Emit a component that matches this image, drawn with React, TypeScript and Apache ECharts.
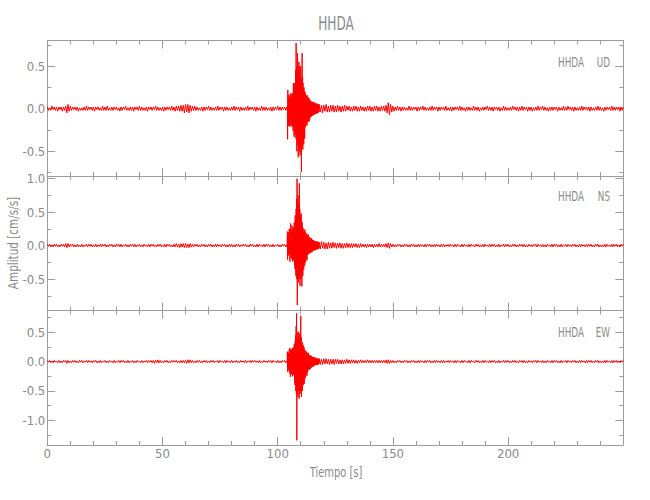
import React, { useEffect, useRef } from "react";
import * as echarts from "echarts";

// ---------- data (cm/s/s) ----------
const STATION = "HHDA";
const COMPONENTS = ["UD", "NS", "EW"];
const X_MIN = 0;
const X_MAX = 250;

// sample steps (s) and segment starts (s)
const PRE_START = 0, PRE_STEP = 0.5;
const EVENT_START = 104, EVENT_STEP = 0.1;
const CODA_START = 118, CODA_STEP = 0.5;
const POST_START = 140, POST_STEP = 0.5;

const udPre = [
  .02,-.02,.01,-.02,.03,-.01,.02,-.02,.02,-.03,
  .02,-.01,.02,-.03,.02,-.02,.03,-.05,.05,-.03,
  .03,-.02,.02,-.01,.02,-.02,.02,-.03,.01,-.02,
  .01,-.02,.02,-.02,.03,-.02,.02,-.01,.02,-.02,
  .02,-.03,.02,-.01,.02,-.02,.01,-.02,.03,-.02,
  .02,-.02,.03,-.02,.01,-.02,.02,-.02,.02,-.01,
  .02,-.02,.01,-.03,.02,-.02,.02,-.01,.03,-.02,
  .01,-.02,.02,-.02,.02,-.03,.02,-.01,.02,-.02,
  .03,-.02,.02,-.02,.01,-.02,.02,-.03,.02,-.01,
  .02,-.02,.02,-.01,.03,-.02,.02,-.02,.01,-.02,
  .02,-.03,.02,-.02,.02,-.01,.02,-.02,.03,-.02,
  .02,-.03,.03,-.02,.03,-.03,.04,-.03,.04,-.05,
  .05,-.04,.05,-.05,.04,-.03,.03,-.02,.03,-.02,
  .02,-.02,.01,-.02,.02,-.03,.02,-.02,.02,-.01,
  .03,-.02,.02,-.02,.01,-.02,.02,-.02,.03,-.02,
  .02,-.01,.02,-.03,.02,-.02,.02,-.02,.01,-.02,
  .02,-.02,.03,-.02,.02,-.01,.02,-.03,.02,-.02,
  .01,-.02,.02,-.02,.03,-.02,.02,-.01,.02,-.02,
  .02,-.03,.02,-.02,.01,-.02,.03,-.02,.02,-.02,
  .02,-.02,.01,-.02,.02,-.03,.02,-.02,.02,-.01,
  .03,-.02,.02,-.02,.02,-.01,.02,-.02,
];
const udEvent = [
  .02,-.01,.02,-.36,.22,-.15,.12,-.2,.16,-.1,
  .14,-.21,.08,-.18,.17,-.12,.1,-.2,.18,-.09,
  .12,-.21,.15,-.08,.18,-.2,.1,-.26,.3,-.18,
  .22,-.33,.3,-.15,.25,-.3,.2,-.28,.45,-.35,
  .77,-.3,.5,-.5,.35,-.42,.65,-.25,.45,-.57,
  .3,-.45,.55,-.35,.5,-.5,.25,-.55,.4,-.3,
  .5,-.45,.35,-.74,.3,-.4,.65,-.35,.38,-.48,
  .3,-.37,.22,-.42,.25,-.3,.18,-.35,.2,-.22,
  .18,-.2,.12,-.18,.15,-.14,.1,-.2,.16,-.12,
  .12,-.16,.1,-.14,.13,-.08,.12,-.15,.09,-.12,
  .1,-.08,.07,-.1,.09,-.06,.08,-.09,.06,-.08,
  .08,-.06,.07,-.08,.05,-.07,.08,-.05,.06,-.07,
  .06,-.05,.07,-.06,.05,-.04,.06,-.05,.04,-.06,
  .05,-.04,.06,-.05,.04,-.05,.05,-.04,.05,-.04,
];
const udCoda = [
  .05,-.04,.04,-.05,.04,-.03,.05,-.04,.03,-.04,
  .04,-.03,.04,-.04,.03,-.04,.04,-.03,.03,-.04,
  .03,-.03,.04,-.03,.03,-.02,.03,-.03,.02,-.03,
  .03,-.02,.03,-.03,.02,-.03,.03,-.02,.02,-.03,
  .02,-.03,.03,-.02,
];
const udPost = [
  .03,-.03,.02,-.03,.03,-.02,.03,-.03,.02,-.03,
  .03,-.02,.03,-.03,.04,-.05,.07,-.07,.05,-.04,
  .03,-.03,.02,-.02,.03,-.02,.02,-.03,.02,-.02,
  .02,-.02,.01,-.02,.03,-.02,.02,-.02,.02,-.01,
  .02,-.03,.02,-.02,.02,-.01,.03,-.02,.02,-.02,
  .01,-.02,.02,-.02,.03,-.02,.02,-.01,.02,-.03,
  .02,-.02,.02,-.01,.02,-.02,.03,-.02,.01,-.02,
  .02,-.03,.02,-.02,.02,-.01,.02,-.02,.03,-.02,
  .02,-.02,.01,-.03,.02,-.02,.02,-.02,.01,-.02,
  .03,-.02,.02,-.02,.02,-.03,.01,-.02,.02,-.02,
  .02,-.01,.03,-.02,.02,-.02,.02,-.03,.02,-.01,
  .02,-.02,.02,-.03,.01,-.02,.03,-.02,.02,-.02,
  .01,-.02,.02,-.02,.03,-.01,.02,-.02,.02,-.03,
  .02,-.02,.03,-.02,.02,-.01,.02,-.03,.02,-.02,
  .02,-.03,.01,-.02,.02,-.02,.03,-.02,.02,-.01,
  .03,-.02,.02,-.02,.01,-.03,.02,-.02,.02,-.02,
  .02,-.01,.02,-.03,.02,-.02,.01,-.02,.03,-.02,
  .02,-.02,.03,-.01,.02,-.02,.02,-.03,.02,-.02,
  .01,-.02,.02,-.02,.03,-.02,.02,-.01,.02,-.02,
  .02,-.03,.02,-.02,.01,-.02,.02,-.02,.03,-.02,
  .02,-.02,.01,-.03,.02,-.02,.02,-.01,.02,-.02,
  .03,-.02,.02,-.02,.02,-.01,.02,-.03,.02,-.02,
  .02,
];

const nsPre = [
  .02,-.01,.02,-.02,.01,-.02,.02,-.01,.02,-.02,
  .01,-.02,.02,-.01,.02,-.02,.03,-.03,.03,-.02,
  .02,-.01,.02,-.02,.01,-.02,.02,-.02,.01,-.02,
  .02,-.02,.01,-.01,.02,-.02,.02,-.01,.02,-.02,
  .01,-.02,.02,-.02,.01,-.01,.02,-.02,.02,-.01,
  .02,-.02,.01,-.02,.02,-.01,.02,-.02,.01,-.02,
  .02,-.01,.02,-.02,.02,-.02,.01,-.01,.02,-.02,
  .01,-.02,.02,-.01,.02,-.02,.02,-.02,.01,-.01,
  .02,-.02,.01,-.02,.02,-.01,.01,-.02,.02,-.02,
  .02,-.01,.02,-.02,.01,-.02,.02,-.01,.02,-.02,
  .01,-.02,.02,-.02,.02,-.01,.02,-.02,.01,-.02,
  .02,-.02,.03,-.02,.02,-.03,.03,-.02,.03,-.03,
  .03,-.03,.02,-.03,.03,-.02,.02,-.02,.02,-.01,
  .02,-.02,.01,-.02,.02,-.01,.02,-.02,.01,-.02,
  .02,-.01,.02,-.02,.01,-.02,.02,-.02,.02,-.01,
  .01,-.02,.02,-.01,.02,-.02,.01,-.02,.02,-.02,
  .02,-.02,.01,-.02,.02,-.01,.02,-.02,.01,-.01,
  .02,-.01,.02,-.02,.01,-.02,.02,-.01,.02,-.02,
  .01,-.02,.02,-.02,.02,-.01,.01,-.02,.02,-.02,
  .02,-.01,.02,-.02,.01,-.02,.02,-.02,.01,-.01,
  .02,-.02,.01,-.02,.02,-.01,.02,-.02,
];
const nsEvent = [
  .01,-.02,.21,-.21,.12,-.15,.18,-.1,.2,-.14,
  .25,-.12,.18,-.24,.15,-.1,.33,-.18,.2,-.15,
  .22,-.2,.3,-.12,.18,-.24,.26,-.15,.2,-.22,
  .28,-.18,.35,-.3,.25,-.35,.45,-.28,.4,-.45,
  .55,-.4,.7,-.5,1.0,-.89,.6,-.45,.75,-.55,
  .5,-.4,.65,-.5,.93,-.45,.55,-.6,.45,-.4,
  .4,-.5,.48,-.35,.3,-.61,.35,-.4,.28,-.45,
  .26,-.3,.2,-.36,.22,-.25,.18,-.3,.24,-.2,
  .2,-.25,.15,-.2,.18,-.15,.12,-.22,.16,-.14,
  .15,-.12,.17,-.1,.12,-.13,.1,-.11,.13,-.09,
  .12,-.1,.09,-.11,.1,-.08,.11,-.09,.08,-.1,
  .09,-.07,.08,-.08,.07,-.06,.08,-.07,.06,-.07,
  .07,-.06,.06,-.07,.05,-.06,.06,-.05,.06,-.05,
  .05,-.06,.05,-.04,.06,-.05,.04,-.05,.05,-.04,
];
const nsCoda = [
  .05,-.05,.06,-.04,.05,-.05,.04,-.05,.05,-.04,
  .04,-.04,.05,-.03,.04,-.04,.04,-.03,.04,-.04,
  .03,-.04,.03,-.03,.04,-.03,.03,-.03,.03,-.03,
  .03,-.02,.03,-.03,.02,-.03,.03,-.02,.02,-.02,
  .02,-.03,.02,-.02,
];
const nsPost = [
  .02,-.02,.02,-.03,.02,-.02,.02,-.02,.03,-.02,
  .02,-.02,.02,-.02,.03,-.03,.04,-.04,.03,-.02,
  .02,-.02,.01,-.02,.02,-.01,.02,-.02,.01,-.02,
  .02,-.01,.02,-.02,.01,-.02,.02,-.01,.02,-.02,
  .01,-.02,.02,-.02,.02,-.01,.01,-.02,.02,-.02,
  .02,-.01,.02,-.02,.01,-.02,.02,-.02,.02,-.01,
  .01,-.02,.02,-.02,.02,-.02,.01,-.01,.02,-.02,
  .02,-.01,.01,-.02,.02,-.02,.02,-.01,.01,-.02,
  .02,-.02,.02,-.01,.01,-.02,.02,-.02,.02,-.01,
  .01,-.02,.02,-.01,.02,-.02,.01,-.02,.02,-.02,
  .02,-.01,.01,-.02,.02,-.02,.02,-.01,.02,-.02,
  .01,-.02,.02,-.02,.01,-.01,.02,-.02,.02,-.01,
  .02,-.02,.01,-.02,.02,-.01,.02,-.02,.01,-.02,
  .02,-.01,.02,-.02,.02,-.02,.01,-.02,.02,-.01,
  .01,-.02,.02,-.01,.02,-.02,.02,-.01,.01,-.02,
  .02,-.02,.01,-.02,.02,-.01,.01,-.02,.02,-.02,
  .02,-.01,.02,-.02,.01,-.02,.02,-.02,.01,-.01,
  .02,-.02,.02,-.01,.01,-.02,.02,-.01,.02,-.02,
  .01,-.02,.02,-.02,.02,-.01,.01,-.02,.02,-.02,
  .02,-.01,.02,-.02,.01,-.02,.02,-.01,.02,-.02,
  .01,-.02,.01,-.02,.02,-.02,.02,-.01,.01,-.02,
  .02,-.02,.02,-.01,.02,-.02,.01,-.02,.02,-.01,
  .02,
];

const ewPre = [
  .02,-.01,.02,-.02,.01,-.02,.02,-.01,.01,-.02,
  .02,-.02,.01,-.02,.02,-.01,.02,-.03,.02,-.02,
  .01,-.02,.02,-.01,.02,-.02,.01,-.02,.02,-.01,
  .02,-.02,.01,-.01,.02,-.02,.02,-.01,.01,-.02,
  .02,-.01,.02,-.02,.01,-.02,.02,-.02,.01,-.01,
  .02,-.02,.01,-.02,.02,-.01,.01,-.02,.02,-.02,
  .01,-.01,.02,-.02,.02,-.01,.02,-.02,.01,-.02,
  .02,-.02,.01,-.01,.02,-.02,.01,-.02,.02,-.01,
  .01,-.02,.02,-.02,.01,-.01,.02,-.02,.02,-.01,
  .02,-.02,.02,-.03,.02,-.02,.03,-.02,.02,-.02,
  .01,-.02,.02,-.01,.02,-.02,.01,-.02,.02,-.01,
  .02,-.01,.02,-.02,.01,-.02,.02,-.02,.02,-.02,
  .02,-.03,.03,-.02,.03,-.02,.02,-.02,.01,-.02,
  .02,-.01,.02,-.02,.01,-.02,.02,-.01,.02,-.02,
  .01,-.02,.02,-.01,.02,-.02,.01,-.01,.02,-.02,
  .02,-.01,.01,-.02,.02,-.02,.02,-.01,.01,-.02,
  .02,-.02,.01,-.01,.02,-.02,.01,-.02,.02,-.01,
  .01,-.02,.02,-.02,.01,-.01,.02,-.02,.02,-.01,
  .02,-.01,.01,-.02,.02,-.02,.01,-.02,.02,-.01,
  .01,-.02,.02,-.01,.02,-.02,.02,-.01,.01,-.02,
  .02,-.02,.01,-.02,.02,-.01,.02,-.02,
];
const ewEvent = [
  .01,-.02,.17,-.17,.12,-.1,.15,-.13,.1,-.16,
  .2,-.12,.23,-.2,.14,-.26,.18,-.1,.22,-.18,
  .15,-.22,.2,-.14,.23,-.25,.12,-.2,.18,-.22,
  .25,-.2,.3,-.35,.22,-.4,.35,-.3,.45,-.5,
  .6,-.55,.82,-1.34,.5,-.45,.4,-.6,.35,-.5,
  .51,-.4,.45,-.63,.38,-.5,.48,-.55,.4,-.45,
  .78,-.5,.42,-.6,.35,-.45,.3,-.5,.32,-.38,
  .28,-.4,.22,-.32,.25,-.38,.18,-.3,.2,-.28,
  .18,-.25,.15,-.22,.17,-.2,.12,-.24,.15,-.18,
  .14,-.15,.12,-.13,.15,-.12,.1,-.14,.11,-.12,
  .11,-.1,.09,-.12,.1,-.08,.09,-.1,.08,-.09,
  .08,-.08,.07,-.09,.06,-.07,.08,-.06,.07,-.07,
  .06,-.06,.07,-.05,.05,-.06,.06,-.05,.05,-.06,
  .05,-.05,.04,-.05,.05,-.04,.05,-.05,.04,-.04,
];
const ewCoda = [
  .05,-.05,.04,-.05,.05,-.04,.05,-.04,.04,-.05,
  .04,-.04,.04,-.05,.04,-.03,.04,-.04,.03,-.04,
  .03,-.04,.03,-.03,.04,-.03,.03,-.03,.03,-.02,
  .03,-.03,.02,-.03,.02,-.02,.03,-.02,.02,-.02,
  .02,-.02,.03,-.02,
];
const ewPost = [
  .02,-.02,.02,-.02,.02,-.02,.02,-.02,.02,-.02,
  .02,-.02,.02,-.02,.03,-.03,.03,-.03,.02,-.02,
  .02,-.02,.01,-.02,.02,-.01,.02,-.02,.01,-.02,
  .02,-.01,.02,-.02,.01,-.02,.02,-.01,.02,-.02,
  .01,-.02,.02,-.02,.02,-.01,.01,-.02,.02,-.02,
  .02,-.01,.02,-.02,.01,-.02,.02,-.02,.02,-.01,
  .01,-.02,.02,-.02,.02,-.02,.01,-.01,.02,-.02,
  .02,-.01,.01,-.02,.02,-.02,.02,-.01,.01,-.02,
  .02,-.02,.02,-.01,.01,-.02,.02,-.02,.02,-.01,
  .01,-.02,.02,-.01,.02,-.02,.01,-.02,.02,-.02,
  .02,-.01,.01,-.02,.02,-.02,.02,-.01,.02,-.02,
  .01,-.02,.02,-.02,.01,-.01,.02,-.02,.02,-.01,
  .02,-.02,.01,-.02,.02,-.01,.02,-.02,.01,-.02,
  .02,-.01,.02,-.02,.02,-.02,.01,-.02,.02,-.01,
  .01,-.02,.02,-.01,.02,-.02,.02,-.01,.01,-.02,
  .02,-.02,.01,-.02,.02,-.01,.01,-.02,.02,-.02,
  .02,-.01,.02,-.02,.01,-.02,.02,-.02,.01,-.01,
  .02,-.02,.02,-.01,.01,-.02,.02,-.01,.02,-.02,
  .01,-.02,.02,-.02,.02,-.01,.01,-.02,.02,-.02,
  .02,-.01,.02,-.02,.01,-.02,.02,-.01,.02,-.02,
  .01,-.02,.01,-.02,.02,-.02,.02,-.01,.01,-.02,
  .02,-.02,.02,-.01,.02,-.02,.01,-.02,.02,-.01,
  .02,
];

// axis ranges and tick values per panel
const Y_RANGES = [[-0.79, 0.8], [-0.97, 1.04], [-1.42, 0.87]];
const Y_MAJOR_TICKS = [[-0.5, 0, 0.5], [-0.5, 0, 0.5, 1.0], [-1.0, -0.5, 0, 0.5]];
const Y_MINOR_TICKS = [
  [-0.75, -0.25, 0.25, 0.75],
  [-0.75, -0.25, 0.25, 0.75],
  [-1.25, -0.75, -0.25, 0.25, 0.75],
];

// ---------- helpers ----------
function seg(start: number, step: number, vals: number[]): [number, number][] {
  return vals.map((v, i) => [Math.round((start + i * step) * 100) / 100, v]);
}
function trace(pre: number[], ev: number[], coda: number[], post: number[]) {
  return [
    ...seg(PRE_START, PRE_STEP, pre),
    ...seg(EVENT_START, EVENT_STEP, ev),
    ...seg(CODA_START, CODA_STEP, coda),
    ...seg(POST_START, POST_STEP, post),
  ];
}

const FONT = "'DejaVu Sans Condensed', 'Liberation Sans', sans-serif";
const AXIS_COLOR = "#9c9c9c";
const TEXT_COLOR = "#8a8a8a";
const LINE_COLOR = "#ff0000";

const GRID_LEFT = 47.3;
const GRID_WIDTH = 576;
const GRID_TOPS = [40.5, 176, 310.5];
const GRID_HEIGHTS = [135.5, 134.5, 134.5];
const LABEL_YS = [62, 196, 332];

export default function App() {
  const ref = useRef<HTMLDivElement>(null);

  useEffect(() => {
    document.body.style.margin = "0";
    if (!ref.current) return;
    const chart = echarts.init(ref.current, null, { renderer: "svg" });

    const traces = [
      trace(udPre, udEvent, udCoda, udPost),
      trace(nsPre, nsEvent, nsCoda, nsPost),
      trace(ewPre, ewEvent, ewCoda, ewPost),
    ];

    const axisLine = { show: true, onZero: false, lineStyle: { color: AXIS_COLOR, width: 1 } };
    const grids: any[] = [];
    const xAxes: any[] = [];
    const yAxes: any[] = [];
    for (let i = 0; i < 3; i++) {
      grids.push({ left: GRID_LEFT, width: GRID_WIDTH, top: GRID_TOPS[i], height: GRID_HEIGHTS[i], containLabel: false });
      for (const pos of ["bottom", "top"]) {
        xAxes.push({
          type: "value",
          gridIndex: i,
          position: pos,
          min: X_MIN,
          max: X_MAX,
          interval: 50,
          axisLine,
          axisTick: { show: true, inside: true, length: 8, lineStyle: { color: AXIS_COLOR } },
          minorTick: { show: true, splitNumber: 5, length: 4, lineStyle: { color: AXIS_COLOR } },
          splitLine: { show: false },
          minorSplitLine: { show: false },
          axisLabel: {
            show: i === 2 && pos === "bottom",
            color: TEXT_COLOR,
            fontFamily: FONT,
            fontSize: 13,
            margin: 2,
            showMaxLabel: false,
            formatter: (v: number) => String(v),
          },
        });
      }
      const base = { type: "value", gridIndex: i, min: Y_RANGES[i][0], max: Y_RANGES[i][1], splitLine: { show: false } };
      const majorTick = { show: true, inside: true, length: 8, customValues: Y_MAJOR_TICKS[i], lineStyle: { color: AXIS_COLOR } };
      const minorTick = { show: true, inside: true, length: 4, customValues: Y_MINOR_TICKS[i], lineStyle: { color: AXIS_COLOR } };
      yAxes.push({
        ...base,
        position: "left",
        axisLine,
        axisTick: majorTick,
        axisLabel: {
          show: true,
          customValues: Y_MAJOR_TICKS[i],
          formatter: (v: number) => v.toFixed(1),
          color: TEXT_COLOR,
          fontFamily: FONT,
          fontSize: 13,
          margin: 2,
        },
      });
      yAxes.push({ ...base, position: "right", axisLine, axisTick: majorTick, axisLabel: { show: false } });
      yAxes.push({ ...base, position: "left", axisLine: { show: false, onZero: false }, axisTick: minorTick, axisLabel: { show: false } });
      yAxes.push({ ...base, position: "right", axisLine: { show: false, onZero: false }, axisTick: minorTick, axisLabel: { show: false } });
    }

    const textStyle = (text: string, size: number, align = "center") => ({
      text,
      fill: TEXT_COLOR,
      fontFamily: FONT,
      fontSize: size,
      align,
      verticalAlign: "middle",
    });

    const graphics: any[] = [
      { type: "text", x: 336, y: 24, scaleX: 0.71, style: textStyle(STATION, 19) },
      { type: "text", x: 13, y: 243, rotation: Math.PI / 2, scaleX: 0.8, style: textStyle("Amplitud [cm/s/s]", 14.5) },
      { type: "text", x: 336, y: 472, scaleX: 0.76, style: textStyle("Tiempo [s]", 14.5) },
    ];
    COMPONENTS.forEach((c, i) => {
      graphics.push({ type: "text", x: 584, y: LABEL_YS[i], scaleX: 0.7, style: textStyle(STATION, 14, "right") });
      graphics.push({ type: "text", x: 610, y: LABEL_YS[i], scaleX: 0.7, style: textStyle(c, 14, "right") });
    });

    chart.setOption({
      animation: false,
      grid: grids,
      xAxis: xAxes,
      yAxis: yAxes,
      graphic: graphics,
      series: traces.map((d, i) => ({
        type: "line",
        name: `${STATION} ${COMPONENTS[i]}`,
        xAxisIndex: 2 * i,
        yAxisIndex: 4 * i,
        data: d,
        symbol: "none",
        showSymbol: false,
        silent: true,
        lineStyle: { color: LINE_COLOR, width: 1 },
      })),
    });

    return () => chart.dispose();
  }, []);

  return <div ref={ref} style={{ width: 650, height: 500 }} />;
}
